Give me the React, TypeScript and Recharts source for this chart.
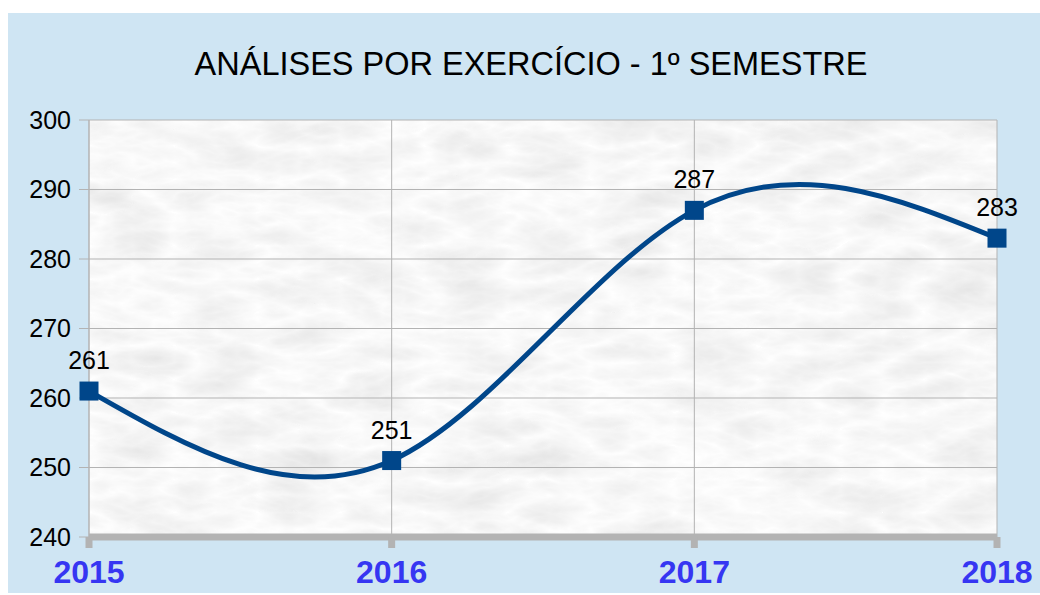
import React from "react";
import { LineChart, Line, XAxis, YAxis, CartesianGrid, LabelList } from "recharts";

const years = ["2015", "2016", "2017", "2018"];
const analyses = [261, 251, 287, 283];
const yTicks = [240, 250, 260, 270, 280, 290, 300];
const title = "ANÁLISES POR EXERCÍCIO - 1º SEMESTRE";

const data = years.map((year, i) => ({ year, value: analyses[i] }));

const LINE = "#00468a";
const FONT = "'Liberation Sans', Arial, sans-serif";

const SquareDot = (props: any) => {
  const { cx, cy } = props;
  if (cx == null || cy == null) return null;
  return <rect x={cx - 9.5} y={cy - 9.5} width={19} height={19} fill={LINE} />;
};

export default function App() {
  return (
    <div
      style={{
        position: "absolute",
        left: 8,
        top: 13,
        width: 1032,
        height: 580,
        background: "#cfe5f3",
        fontFamily: FONT,
        overflow: "hidden",
      }}
    >
      <svg width={0} height={0} style={{ position: "absolute" }}>
        <defs>
          <filter id="marbleFilter" x="0" y="0" width="100%" height="100%">
            <feTurbulence type="turbulence" baseFrequency="0.012 0.03" numOctaves={4} seed={7} result="t" />
            <feColorMatrix
              in="t"
              type="matrix"
              values="-0.25 0 0 0 1.0  -0.25 0 0 0 1.0  -0.25 0 0 0 1.0  0 0 0 0 1"
            />
          </filter>
          <pattern id="marble" patternUnits="userSpaceOnUse" x={0} y={0} width={1100} height={650}>
            <rect x={0} y={0} width={1100} height={650} fill="#e8e8e8" />
            <rect x={0} y={0} width={1100} height={650} filter="url(#marbleFilter)" />
          </pattern>
        </defs>
      </svg>
      <div
        style={{
          position: "absolute",
          left: 523,
          top: 35,
          transform: "translateX(-50%)",
          whiteSpace: "nowrap",
          fontSize: 32.5,
          lineHeight: "32px",
          color: "#000",
        }}
      >
        {title}
      </div>
      <LineChart
        width={1032}
        height={580}
        data={data}
        margin={{ top: 107, right: 43, left: 0, bottom: 0 }}
        style={{ fontFamily: FONT }}
      >
        <CartesianGrid stroke="#b3b3b3" strokeWidth={1} fill="url(#marble)" fillOpacity={1} />
        <XAxis
          dataKey="year"
          height={56}
          axisLine={{ stroke: "#b3b3b3", strokeWidth: 7 }}
          tickLine={{ stroke: "#b3b3b3", strokeWidth: 7 }}
          tickSize={11}
          tickMargin={12}
          tick={{ fill: "#3636f2", fontSize: 32, fontWeight: "bold" }}
          interval={0}
        />
        <YAxis
          width={81}
          domain={[240, 300]}
          ticks={yTicks}
          type="number"
          allowDataOverflow
          axisLine={{ stroke: "#b3b3b3" }}
          tickLine={{ stroke: "#b3b3b3" }}
          tickSize={10}
          tickMargin={8}
          tick={{ fill: "#000", fontSize: 25 }}
          interval={0}
        />
        <Line
          type="natural"
          dataKey="value"
          stroke={LINE}
          strokeWidth={5}
          dot={<SquareDot />}
          activeDot={false}
          isAnimationActive={false}
        >
          <LabelList dataKey="value" position="top" offset={22} fill="#000" fontSize={25} />
        </Line>
      </LineChart>
    </div>
  );
}
